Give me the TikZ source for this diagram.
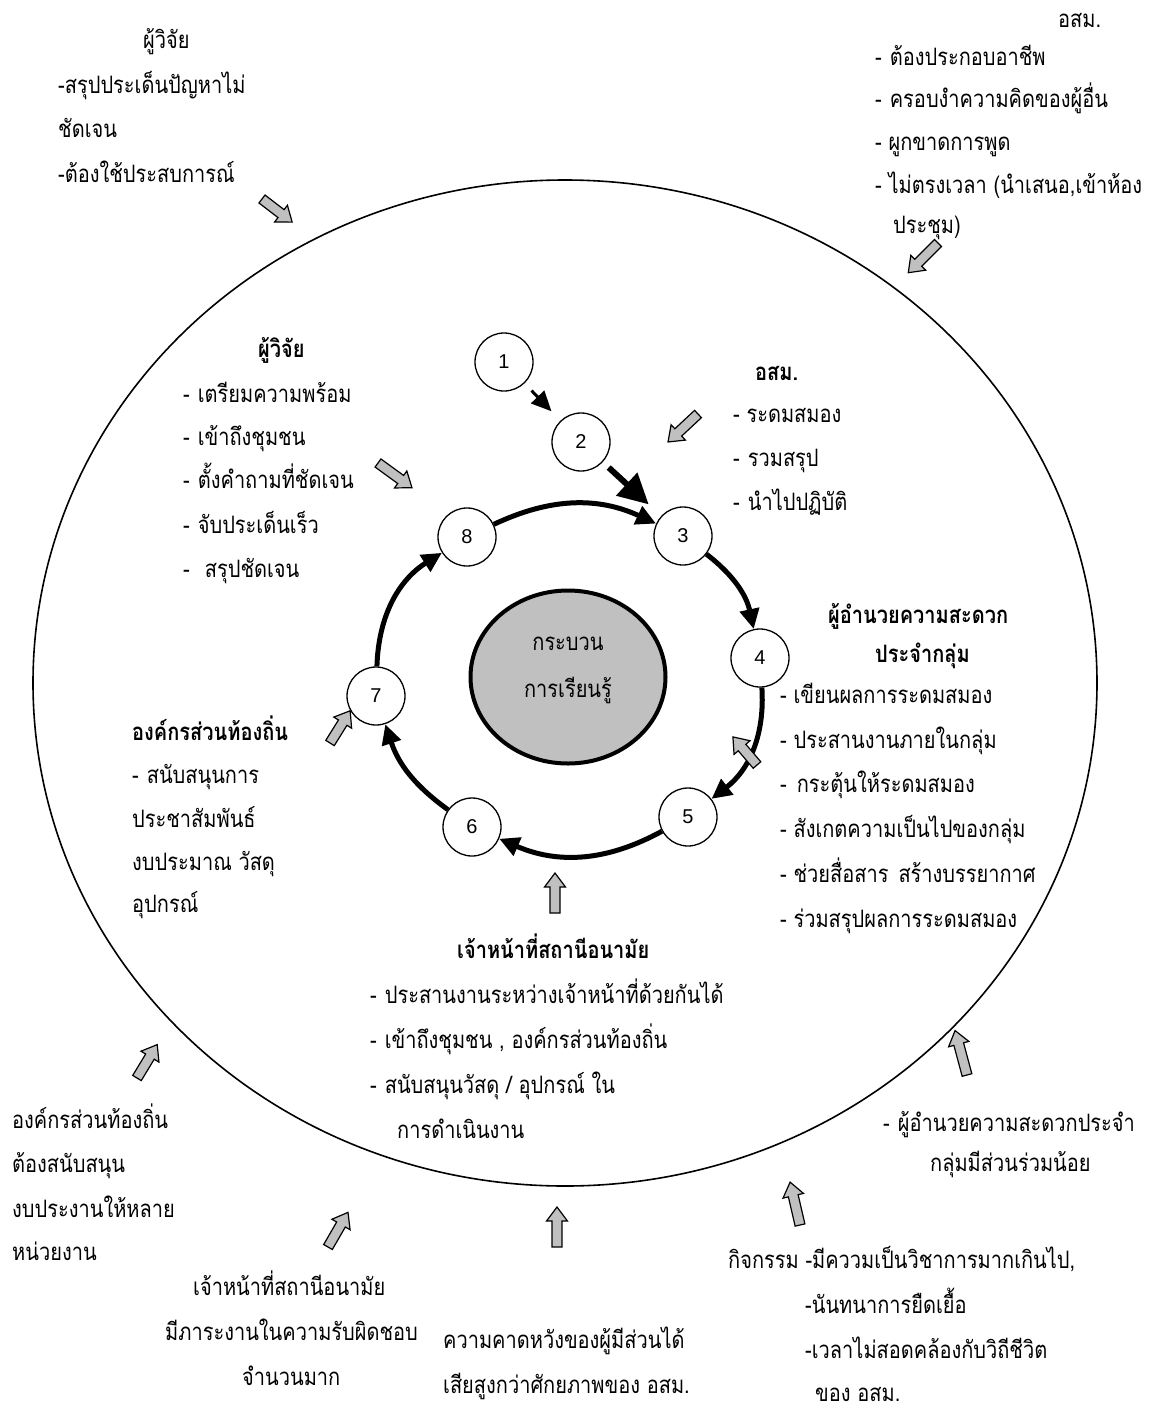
\documentclass[tikz,border=0pt]{standalone}
\usepackage{fontspec}
\usepackage{graphicx}
\setmainfont{Liberation Sans}
\newfontfamily\thai[Script=Thai]{Loma}
\newfontfamily\numfont{Liberation Sans}
\usetikzlibrary{arrows.meta,calc,shapes.geometric}

\definecolor{silver}{RGB}{192,192,192}

\tikzset{
  txt/.style={font=\thai\fontsize{20}{24}\selectfont, inner sep=0pt, anchor=base west},
  ctxt/.style={txt, anchor=base},
  btxt/.style={font=\thai\bfseries\fontsize{20}{24}\selectfont, inner sep=0pt, anchor=base west},
  num/.style={circle, draw, line width=1.3pt, fill=white, minimum size=58pt, inner sep=0pt,
              font=\numfont\fontsize{20}{24}\selectfont},
  ring/.style={line width=5pt, -{Triangle[length=20pt,width=19pt]}},
  pics/blockarrow/.style={code={
    \draw[line width=1.2pt, fill=silver, line join=miter]
      (0,-5) -- (#1-14,-5) -- (#1-14,-10.5) -- (#1,0) -- (#1-14,10.5)
      -- (#1-14,5) -- (0,5) -- cycle;
  }}
}

% one line of text, placed by its baseline; the Thai face is set a little taller
\newcommand{\tline}[5][txt]{\node[#1] (#2) at (#3,-#4) {\scalebox{1}[1.2]{#5}};}

\begin{document}
\begin{tikzpicture}[x=1pt,y=1pt]
\useasboundingbox (0,0) rectangle (1158,-1409);
\fill[white] (0,0) rectangle (1158,-1409);

% outer frame
\draw[line width=1.6pt] (565,-683) ellipse [x radius=532, y radius=503];

% learning process core
\node[ellipse, draw, line width=4pt, fill=silver, minimum width=195pt, minimum height=173pt] (core) at (568,-677) {};
\tline[ctxt]{core1}{568}{650}{กระบวน}
\tline[ctxt]{core2}{568}{697}{การเรียนรู้}

% steps of the cycle
\node[num] (c1) at (504,-362) {1};
\node[num] (c2) at (581,-442) {2};
\node[num] (c3) at (683,-536) {3};
\node[num] (c4) at (760,-658) {4};
\node[num] (c5) at (688,-817) {5};
\node[num] (c6) at (472,-827) {6};
\node[num] (c7) at (376,-696) {7};
\node[num] (c8) at (467,-537) {8};

\draw[line width=3pt, -{Triangle[length=20pt,width=18pt]}, shorten <=10pt, shorten >=13pt] (c1) -- (c2);
\draw[line width=6pt, -{Triangle[length=30pt,width=30pt]}, shorten <=8pt, shorten >=17pt] (c2) -- (c3);
\draw[ring] (c8) to[bend left=25] (c3);
\draw[ring] (c3) to[bend left=20] (c4);
\draw[ring] (c4) to[bend left=28] (c5);
\draw[ring] (c5) to[bend left=26] (c6);
\draw[ring] (c6) to[bend left=18] (c7);
\draw[ring] (c7) to[bend left=28] (c8);

% influence arrows
\pic[rotate=-37.5] at (262,-199) {blockarrow=38};
\pic[rotate=-135] at (938,-243) {blockarrow=42};
\pic[rotate=-137] at (698,-414) {blockarrow=41};
\pic[rotate=-36] at (378,-463) {blockarrow=42};
\pic[rotate=130.6] at (757,-765) {blockarrow=37};
\pic[rotate=58] at (330,-743) {blockarrow=38};
\pic[rotate=90] at (555,-913) {blockarrow=40};
\pic[rotate=58.8] at (137,-1078) {blockarrow=39};
\pic[rotate=60] at (328,-1247) {blockarrow=40};
\pic[rotate=90] at (557,-1247) {blockarrow=40};
\pic[rotate=103] at (800,-1225) {blockarrow=44};
\pic[rotate=105] at (967,-1075) {blockarrow=46};

% researcher, outside
\tline{ra0}{143}{48}{ผู้วิจัย}
\tline{ra1}{58}{93}{-สรุปประเด็นปัญหาไม่}
\tline{ra2}{58}{137}{ชัดเจน}
\tline{ra3}{58}{182}{-ต้องใช้ประสบการณ์}

% village volunteers, outside
\tline{va0}{1058}{27}{อสม.}
\tline{va1}{875}{65}{-\hspace{8pt}ต้องประกอบอาชีพ}
\tline{va2}{875}{107}{-\hspace{8pt}ครอบงำความคิดของผู้อื่น}
\tline{va3}{875}{150}{- ผูกขาดการพูด}
\tline{va4}{875}{193}{- ไม่ตรงเวลา (นำเสนอ,เข้าห้อง}
\tline{va5}{893}{233}{ประชุม)}

% researcher, inside
\tline[btxt]{rb0}{258}{357}{ผู้วิจัย}
\tline{rb1}{183}{402}{-\hspace{8pt}เตรียมความพร้อม}
\tline{rb2}{183}{445}{-\hspace{8pt}เข้าถึงชุมชน}
\tline{rb3}{183}{488}{-\hspace{8pt}ตั้งคำถามที่ชัดเจน}
\tline{rb4}{183}{533}{-\hspace{8pt}จับประเด็นเร็ว}
\tline{rb5}{183}{577}{-\hspace{15pt}สรุปชัดเจน}

% village volunteers, inside
\tline[btxt]{vb0}{755}{380}{อสม.}
\tline{vb1}{733}{422}{- ระดมสมอง}
\tline{vb2}{733}{466}{-\hspace{8pt}รวมสรุป}
\tline{vb3}{733}{510}{-\hspace{8pt}นำไปปฏิบัติ}

% group facilitator
\tline[btxt]{fb0}{828}{623}{ผู้อำนวยความสะดวก}
\tline[btxt]{fb1}{875}{662}{ประจำกลุ่ม}
\tline{fb2}{780}{703}{- เขียนผลการระดมสมอง}
\tline{fb3}{780}{748}{- ประสานงานภายในกลุ่ม}
\tline{fb4}{780}{792}{-\hspace{10pt}กระตุ้นให้ระดมสมอง}
\tline{fb5}{780}{837}{- สังเกตความเป็นไปของกลุ่ม}
\tline{fb6}{780}{882}{- ช่วยสื่อสาร\hspace{10pt}สร้างบรรยากาศ}
\tline{fb7}{780}{927}{- ร่วมสรุปผลการระดมสมอง}

% local administration, inside
\tline[btxt]{lb0}{132}{740}{องค์กรส่วนท้องถิ่น}
\tline{lb1}{132}{783}{-\hspace{8pt}สนับสนุนการ}
\tline{lb2}{132}{827}{ประชาสัมพันธ์}
\tline{lb3}{132}{870}{งบประมาณ วัสดุ}
\tline{lb4}{132}{912}{อุปกรณ์}

% health station staff, inside
\tline[btxt]{hb0}{457}{958}{เจ้าหน้าที่สถานีอนามัย}
\tline{hb1}{370}{1003}{-\hspace{8pt}ประสานงานระหว่างเจ้าหน้าที่ด้วยกันได้}
\tline{hb2}{370}{1048}{-\hspace{8pt}เข้าถึงชุมชน , องค์กรส่วนท้องถิ่น}
\tline{hb3}{370}{1093}{-\hspace{8pt}สนับสนุนวัสดุ / อุปกรณ์ ใน}
\tline{hb4}{397}{1138}{การดำเนินงาน}

% local administration, outside
\tline{la1}{12}{1128}{องค์กรส่วนท้องถิ่น}
\tline{la2}{12}{1172}{ต้องสนับสนุน}
\tline{la3}{12}{1217}{งบประงานให้หลาย}
\tline{la4}{12}{1260}{หน่วยงาน}

% health station staff, outside
\tline{ha1}{193}{1295}{เจ้าหน้าที่สถานีอนามัย}
\tline{ha2}{165}{1340}{มีภาระงานในความรับผิดชอบ}
\tline{ha3}{242}{1385}{จำนวนมาก}

% stakeholders
\tline{sa1}{443}{1348}{ความคาดหวังของผู้มีส่วนได้}
\tline{sa2}{443}{1393}{เสียสูงกว่าศักยภาพของ อสม.}

% activities
\tline{aa1}{728}{1268}{กิจกรรม -มีคววมเป็นวิชาการมากเกินไป,}
\tline{aa2}{805}{1313}{-นันทนาการยืดเยื้อ}
\tline{aa3}{805}{1358}{-เวลาไม่สอดคล้องกับวิถีชีวิต}
\tline{aa4}{815}{1401}{ของ อสม.}

% group facilitator, outside
\tline{fa1}{883}{1131}{-\hspace{8pt}ผู้อำนวยความสะดวกประจำ}
\tline{fa2}{930}{1171}{กลุ่มมีส่วนร่วมน้อย}

\end{tikzpicture}
\end{document}
